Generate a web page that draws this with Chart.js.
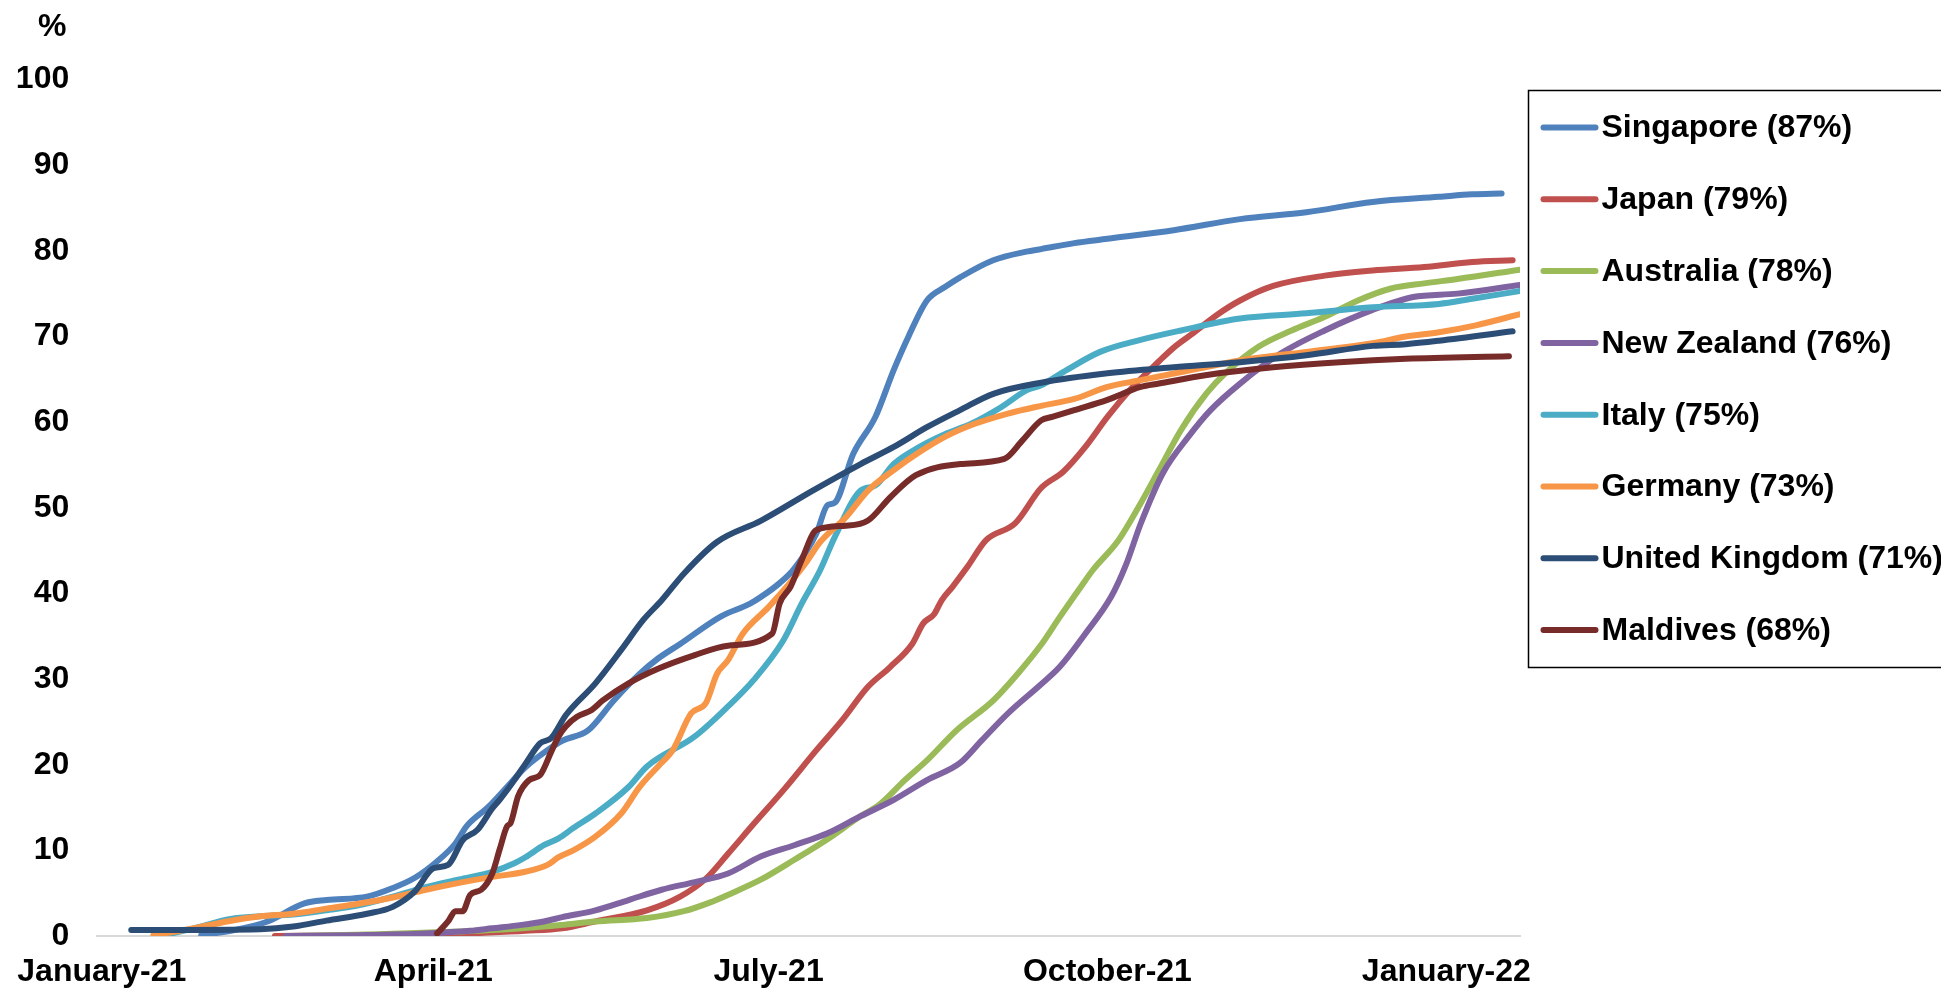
<!DOCTYPE html>
<html>
<head>
<meta charset="utf-8">
<title>Vaccination coverage</title>
<script src="https://cdn.jsdelivr.net/npm/chart.js@4/dist/chart.umd.min.js"></script>
<style>
  html, body { margin: 0; padding: 0; background: #ffffff; }
  #wrap { width: 1941px; height: 989px; }
</style>
</head>
<body>
<div id="wrap"><canvas id="chart" width="1941" height="989"></canvas></div>
<script>
// x values are days counted from 1 January 2021
const tickDays = [0, 90, 181, 273, 365];
const tickLabels = ['January-21', 'April-21', 'July-21', 'October-21', 'January-22'];

const countries = ['Singapore', 'Japan', 'Australia', 'New Zealand', 'Italy', 'Germany', 'United Kingdom', 'Maldives'];
const colors = ['#4F81BD', '#C0504D', '#9BBB59', '#8064A2', '#4BACC6', '#F79646', '#2C4D75', '#772C2A'];

const singaporeDays = [27, 36, 45, 55, 61, 72, 79, 85, 91, 96, 99, 105, 110, 115, 121, 125, 132, 139, 146, 151, 157, 168, 176, 179, 184, 188, 194, 197, 199, 204, 210, 215, 219, 224, 229, 233, 242, 251, 255, 264, 273, 291, 309, 327, 345, 363, 372, 380];
const singaporeValues = [0.1, 0.7, 1.7, 3.8, 4.2, 4.6, 5.6, 6.8, 8.7, 10.8, 12.8, 15.1, 17.4, 19.7, 21.7, 22.8, 24.0, 27.5, 30.6, 32.4, 34.1, 37.3, 38.8, 39.6, 41.2, 42.9, 47.0, 50.3, 50.6, 56.3, 60.6, 66.1, 70.0, 74.2, 75.8, 76.9, 78.9, 79.9, 80.2, 80.9, 81.4, 82.4, 83.7, 84.5, 85.7, 86.3, 86.6, 86.7];

const japanDays = [47, 70, 90, 100, 115, 125, 134, 148, 157, 164, 170, 177, 185, 194, 201, 208, 214, 220, 223, 226, 228, 231, 235, 240, 248, 255, 261, 267, 273, 279, 287, 291, 296, 303, 309, 318, 332, 345, 359, 372, 383];
const japanValues = [0, 0.05, 0.1, 0.3, 0.6, 0.9, 1.7, 3.0, 4.6, 6.7, 9.6, 13.1, 17.0, 21.7, 25.2, 29.1, 31.4, 34.1, 36.5, 37.6, 39.2, 40.8, 43.1, 46.2, 48.2, 52.3, 54.2, 57.1, 60.6, 63.7, 67.1, 68.7, 70.3, 72.6, 74.2, 75.9, 77.1, 77.7, 78.1, 78.7, 78.9];

const australiaDays = [52, 75, 95, 110, 120, 125, 134, 148, 158, 165, 171, 179, 188, 197, 206, 211, 218, 224, 232, 242, 249, 255, 260, 266, 269, 276, 282, 287, 293, 300, 305, 314, 323, 332, 341, 350, 359, 368, 385];
const australiaValues = [0, 0.2, 0.5, 0.8, 1.1, 1.3, 1.7, 2.1, 2.9, 3.9, 5.0, 6.6, 8.9, 11.3, 14.0, 15.3, 18.2, 20.5, 24.0, 27.5, 30.8, 34.0, 37.2, 40.9, 42.7, 46.2, 50.5, 54.4, 59.1, 63.4, 65.7, 68.8, 70.7, 72.3, 74.2, 75.6, 76.2, 76.7, 77.8];

const newZealandDays = [50, 70, 88, 100, 106, 114, 120, 125, 134, 143, 152, 161, 170, 179, 188, 197, 206, 215, 224, 233, 239, 246, 255, 260, 267, 274, 278, 282, 288, 295, 301, 309, 320, 332, 345, 356, 368, 385];
const newZealandValues = [0, 0.1, 0.3, 0.6, 0.9, 1.3, 1.7, 2.2, 3.0, 4.2, 5.4, 6.3, 7.3, 9.3, 10.6, 12.0, 14.0, 15.9, 18.2, 20.2, 22.9, 26.0, 29.4, 31.4, 35.3, 39.6, 43.3, 48.1, 54.0, 58.3, 61.4, 64.5, 68.0, 70.7, 73.1, 74.6, 75.0, 76.0];

const italyDays = [16, 25, 35, 43, 52, 61, 70, 79, 88, 97, 106, 112, 115, 120, 124, 128, 134, 143, 148, 161, 170, 177, 185, 190, 195, 199, 206, 210, 215, 222, 229, 236, 244, 251, 255, 262, 271, 282, 293, 309, 327, 345, 363, 372, 385];
const italyValues = [0, 0.9, 2.0, 2.3, 2.5, 3.0, 3.6, 4.6, 5.7, 6.6, 7.5, 8.5, 9.2, 10.6, 11.4, 12.6, 14.3, 17.4, 19.8, 23.3, 26.8, 29.9, 34.5, 38.8, 42.7, 46.6, 52.0, 52.6, 55.1, 57.1, 58.6, 59.8, 61.7, 63.7, 64.3, 66.1, 68.2, 69.6, 70.7, 72.1, 72.7, 73.4, 73.8, 74.4, 75.3];

const germanyDays = [14, 25, 34, 43, 52, 61, 70, 79, 88, 97, 106, 115, 121, 124, 128, 134, 141, 146, 151, 155, 160, 164, 167, 170, 174, 181, 186, 191, 195, 202, 208, 215, 222, 229, 237, 246, 255, 264, 273, 282, 296, 309, 327, 345, 354, 363, 373, 385];
const germanyValues = [0.1, 0.9, 1.7, 2.3, 2.6, 3.2, 3.8, 4.5, 5.4, 6.2, 6.9, 7.5, 8.3, 9.2, 10.0, 11.6, 14.3, 17.4, 19.8, 21.7, 26.0, 27.2, 30.6, 32.2, 35.3, 38.4, 40.8, 43.5, 46.0, 48.9, 52.0, 54.4, 56.5, 58.3, 59.8, 61.0, 61.9, 62.7, 64.1, 64.9, 66.1, 67.2, 68.2, 69.2, 70.0, 70.5, 71.3, 72.6];

const ukDays = [8, 43, 52, 61, 72, 79, 85, 90, 94, 98, 102, 106, 108, 112, 115, 119, 122, 126, 134, 141, 147, 152, 158, 167, 179, 193, 206, 215, 224, 233, 242, 255, 273, 291, 309, 327, 345, 354, 363, 383];
const ukValues = [0.7, 0.8, 1.1, 1.8, 2.6, 3.4, 5.2, 7.9, 8.3, 11.2, 12.4, 14.9, 15.9, 18.2, 20.1, 22.5, 23.1, 25.8, 29.5, 33.4, 36.9, 39.2, 42.3, 46.0, 48.5, 52.0, 55.1, 57.1, 59.4, 61.4, 63.3, 64.6, 65.7, 66.4, 67.0, 67.8, 68.9, 69.1, 69.5, 70.6];

const maldivesDays = [91, 94, 96, 98, 100, 103, 106, 108, 110, 111, 113, 116, 119, 122, 124, 126, 129, 133, 136, 143, 151, 161, 170, 182, 184, 187, 190, 194, 202, 208, 214, 221, 233, 245, 250, 255, 258, 264, 273, 282, 287, 300, 318, 336, 354, 382];
const maldivesValues = [0.3, 1.7, 2.9, 2.9, 4.8, 5.4, 7.3, 10.1, 12.8, 13.2, 16.3, 18.2, 18.8, 21.5, 23.3, 24.5, 25.6, 26.4, 27.5, 29.5, 31.2, 32.8, 33.9, 35.3, 38.8, 40.8, 43.9, 47.4, 47.9, 48.5, 51.2, 53.8, 55.1, 55.7, 57.9, 60.2, 60.6, 61.4, 62.6, 64.1, 64.5, 65.5, 66.4, 67.0, 67.4, 67.7];

const seriesDays = [singaporeDays, japanDays, australiaDays, newZealandDays, italyDays, germanyDays, ukDays, maldivesDays];
const seriesValues = [singaporeValues, japanValues, australiaValues, newZealandValues, italyValues, germanyValues, ukValues, maldivesValues];

const FONT = "'Liberation Sans', Arial, Helvetica, sans-serif";
const LINE_WIDTH = 6;

const datasets = countries.map((name, i) => {
  const vals = seriesValues[i];
  const last = vals[vals.length - 1];
  return {
    label: name + ' (' + Math.round(last) + '%)',
    data: seriesDays[i].map((d, k) => ({ x: d, y: vals[k] })),
    borderColor: colors[i],
    backgroundColor: colors[i],
    borderWidth: LINE_WIDTH,
    borderCapStyle: 'round',
    borderJoinStyle: 'round',
    pointRadius: 0,
    pointHoverRadius: 0,
    fill: false,
    cubicInterpolationMode: 'monotone',
    order: countries.length - i
  };
});

// boxed legend at the right of the plot, plus the "%" unit above the value axis
const decorations = {
  id: 'decorations',
  afterDraw(chart) {
    const ctx = chart.ctx;
    const area = chart.chartArea;
    const yScale = chart.scales.y;

    ctx.save();
    ctx.font = 'bold 32px ' + FONT;
    ctx.fillStyle = '#000000';
    ctx.textAlign = 'center';
    ctx.textBaseline = 'middle';
    ctx.fillText('%', yScale.right - yScale.options.ticks.padding - 17, yScale.getPixelForValue(100) - 52);

    const boxLeft = area.right + 8.5;
    const boxTop = 90.5;
    const boxHeight = 577;
    ctx.strokeStyle = '#000000';
    ctx.lineWidth = 1.5;
    ctx.strokeRect(boxLeft, boxTop, chart.width - boxLeft + 10, boxHeight);

    const rowGap = 71.8;
    const firstRow = boxTop + 37;
    ctx.textAlign = 'left';
    chart.data.datasets.forEach((ds, i) => {
      const y = firstRow + i * rowGap;
      ctx.strokeStyle = ds.borderColor;
      ctx.lineWidth = LINE_WIDTH;
      ctx.lineCap = 'round';
      ctx.beginPath();
      ctx.moveTo(boxLeft + 15, y);
      ctx.lineTo(boxLeft + 67, y);
      ctx.stroke();
      ctx.fillStyle = '#000000';
      ctx.fillText(ds.label, boxLeft + 73, y + 1);
    });
    ctx.restore();
  }
};

new Chart(document.getElementById('chart'), {
  type: 'line',
  data: { datasets },
  plugins: [decorations],
  options: {
    responsive: false,
    animation: false,
    devicePixelRatio: 1,
    layout: { autoPadding: false, padding: { left: 12, right: 421, top: 79.5, bottom: 0 } },
    plugins: {
      legend: { display: false },
      tooltip: { enabled: false }
    },
    scales: {
      x: {
        type: 'linear',
        min: -1.24,
        max: 385,
        afterBuildTicks(scale) {
          scale.ticks = tickDays.map(v => ({ value: v }));
        },
        afterFit(scale) {
          scale.height = 53;
        },
        ticks: {
          autoSkip: false,
          maxRotation: 0,
          padding: 17,
          color: '#000000',
          font: { family: FONT, size: 32, weight: 'bold' },
          callback: (value) => tickLabels[tickDays.indexOf(value)]
        },
        grid: { display: false, drawTicks: false },
        border: { display: true, color: '#D9D9D9', width: 2 }
      },
      y: {
        min: 0,
        max: 100,
        afterFit(scale) {
          scale.width = 80;
        },
        ticks: {
          stepSize: 10,
          padding: 28,
          color: '#000000',
          font: { family: FONT, size: 32, weight: 'bold' }
        },
        grid: { display: false, drawTicks: false },
        border: { display: false }
      }
    }
  }
});
</script>
</body>
</html>
